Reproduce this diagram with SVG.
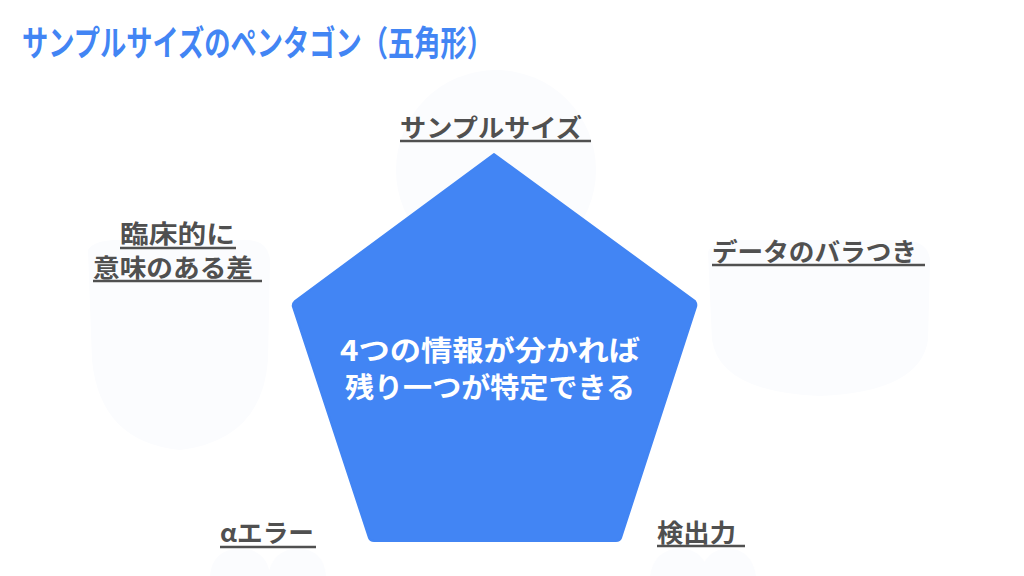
<svg xmlns="http://www.w3.org/2000/svg" width="1024" height="576" viewBox="0 0 1024 576">
  <style>
    .title { font-family: "Noto Sans CJK JP", "Noto Sans", sans-serif; font-weight: 700; font-size: 35px; fill: #4285F4; }
    .label { font-family: "Noto Sans CJK JP", "Noto Sans", sans-serif; font-weight: 700; font-size: 25px; fill: #505050; }
    .uline { stroke: #505050; stroke-width: 2.5; }
    .center { font-family: "Noto Sans CJK JP", "Noto Sans", sans-serif; font-weight: 700; font-size: 28px; fill: #ffffff; }
    .ghost { fill: #fbfcfe; }
  </style>
  <rect width="1024" height="576" fill="#ffffff"/>

  <g id="background-ghosts">
    <circle class="ghost" cx="496" cy="170" r="100"/>
    <path class="ghost" d="M88 250 Q95 238 130 240 L240 240 Q268 238 270 260 L268 360 Q262 440 180 450 Q100 442 92 360 Z"/>
    <path class="ghost" d="M708 252 Q712 240 740 240 L900 240 Q930 240 930 262 L928 340 Q920 392 820 396 Q720 392 712 340 Z"/>
    <path class="ghost" d="M210 576 Q212 550 240 548 Q268 550 270 576 Z"/>
    <path class="ghost" d="M268 576 Q272 550 298 548 Q324 550 326 576 Z"/>
    <path class="ghost" d="M650 576 Q654 550 680 548 Q706 550 708 576 Z"/>
    <path class="ghost" d="M700 576 Q704 550 728 548 Q752 550 756 576 Z"/>
  </g>

  <text class="title" x="22" y="56" textLength="471" lengthAdjust="spacingAndGlyphs">サンプルサイズのペンタゴン（五角形）</text>

  <g id="connectors"></g>

  <g id="pentagon">
    <path d="M494 154 L695 301 Q697 304 696 307 L621 538 Q620 541 616 541 L374 541 Q370 541 369 538 L293 307 Q292 304 295 301 Z" fill="#4285F4" stroke="#4285F4" stroke-width="2" stroke-linejoin="round"/>
    <text class="center" x="340" y="361" textLength="300" lengthAdjust="spacingAndGlyphs">4つの情報が分かれば</text>
    <text class="center" x="345" y="398" textLength="290" lengthAdjust="spacingAndGlyphs">残り一つが特定できる</text>
  </g>

  <g id="node-sample-size">
    <text class="label" x="400" y="137" textLength="182" lengthAdjust="spacingAndGlyphs">サンプルサイズ</text>
    <line class="uline" x1="400" y1="141" x2="591" y2="141"/>
  </g>

  <g id="node-clinical-difference">
    <text class="label" x="120" y="243" textLength="115" lengthAdjust="spacingAndGlyphs">臨床的に</text>
    <line class="uline" x1="120" y1="248" x2="236" y2="248"/>
    <text class="label" x="93" y="277" textLength="160" lengthAdjust="spacingAndGlyphs">意味のある差</text>
    <line class="uline" x1="93" y1="281" x2="262" y2="281"/>
  </g>

  <g id="node-variability">
    <text class="label" x="712" y="261" textLength="205" lengthAdjust="spacingAndGlyphs">データのバラつき</text>
    <line class="uline" x1="712" y1="265" x2="925" y2="265"/>
  </g>

  <g id="node-alpha-error">
    <text class="label" x="220" y="542" textLength="94" lengthAdjust="spacingAndGlyphs">αエラー</text>
    <line class="uline" x1="220" y1="547" x2="316" y2="547"/>
  </g>

  <g id="node-power">
    <text class="label" x="657" y="542" textLength="79" lengthAdjust="spacingAndGlyphs">検出力</text>
    <line class="uline" x1="657" y1="546" x2="745" y2="546"/>
  </g>
</svg>
